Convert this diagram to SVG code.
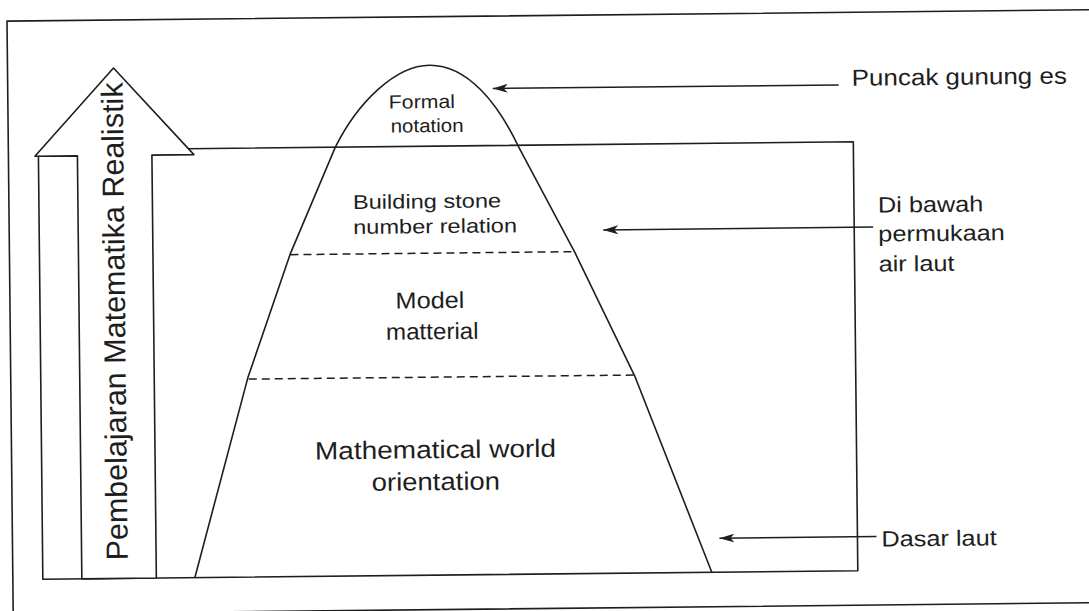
<svg xmlns="http://www.w3.org/2000/svg" width="1089" height="611" viewBox="0 0 1089 611">
<style>
  .ln { fill: none; stroke: #1e1e1e; stroke-width: 1.6; stroke-linejoin: round; }
  .dash { fill: none; stroke: #1e1e1e; stroke-width: 1.5; stroke-dasharray: 8 5; }
  .t { font-family: "Liberation Sans", Arial, sans-serif; fill: #1e1e1e; }
  .c { stroke: #1e1e1e; stroke-width: 1.5; fill: none; }
</style>
<defs>
  <marker id="ah" markerUnits="userSpaceOnUse" markerWidth="15" markerHeight="10" viewBox="0 0 15 10" refX="15" refY="5" orient="auto">
    <path d="M0,0.5 L15,5 L0,9.5 L4,5 Z" fill="#1e1e1e"/>
  </marker>
</defs>
<rect x="0" y="0" width="1089" height="611" fill="#ffffff"/>
<g transform="rotate(-0.6 544 305)">
  <g id="frame">
    <rect class="ln" x="10" y="15.5" width="1100" height="593"/>
  </g>
  <g id="sea">
    <path class="ln" d="M190,145 H855 V574 H40 V151"/>
  </g>
  <g id="iceberg">
    <path class="ln" d="M192,574 L247,375 L290.5,252 L337,145 C 360,100 398,64 432,64 C 470,64 500,103 520,146 L575.5,253 L634,377 L709,574"/>
    <line class="dash" x1="291" y1="252" x2="575" y2="252"/>
    <line class="dash" x1="248" y1="376" x2="634" y2="376"/>
  </g>
  <g id="arrow-pmr">
    <path class="ln" fill="#ffffff" style="fill:#ffffff" d="M116,63.5 L195.5,151 L153.5,151 L153.5,574 L79,574 L79,151 L36.5,151 Z"/>
    <text class="t" font-size="30.5" text-anchor="start" transform="translate(125,556) rotate(-90)">Pembelajaran Matematika Realistik</text>
  </g>
  <g id="layer-formal">
    <text class="t" font-size="19" text-anchor="middle" transform="translate(424,107) scale(1.12,1)">Formal</text>
    <text class="t" font-size="19" text-anchor="middle" transform="translate(429,131) scale(1.08,1)">notation</text>
  </g>
  <g id="layer-building">
    <text class="t" font-size="20" transform="translate(354,207) scale(1.18,1)">Building stone</text>
    <text class="t" font-size="20" transform="translate(354,232) scale(1.18,1)">number relation</text>
  </g>
  <g id="layer-model">
    <text class="t" font-size="23" text-anchor="middle" transform="translate(430,307) scale(1.1,1)">Model</text>
    <text class="t" font-size="23" text-anchor="middle" transform="translate(432,338) scale(1.05,1)">matterial</text>
  </g>
  <g id="layer-world">
    <text class="t" font-size="25" text-anchor="middle" transform="translate(434,457) scale(1.12,1)">Mathematical world</text>
    <text class="t" font-size="25" text-anchor="middle" transform="translate(434,489) scale(1.1,1)">orientation</text>
  </g>
  <g id="label-puncak">
    <text class="t" font-size="23" transform="translate(854,89) scale(1.13,1)">Puncak gunung es</text>
  </g>
  <g id="label-dibawah">
    <text class="t" font-size="22" transform="translate(879,216) scale(1.15,1)">Di bawah</text>
    <text class="t" font-size="22" transform="translate(879,245) scale(1.15,1)">permukaan</text>
    <text class="t" font-size="22" transform="translate(879,275) scale(1.15,1)">air laut</text>
  </g>
  <g id="label-dasar">
    <text class="t" font-size="22" transform="translate(879,550) scale(1.15,1)">Dasar laut</text>
  </g>
  <g id="connectors">
    <line class="c" x1="841" y1="88" x2="495" y2="88" marker-end="url(#ah)"/>
    <line class="c" x1="874" y1="230.5" x2="604" y2="230.5" marker-end="url(#ah)"/>
    <line class="c" x1="874" y1="540" x2="717" y2="540" marker-end="url(#ah)"/>
  </g>
</g>
</svg>
